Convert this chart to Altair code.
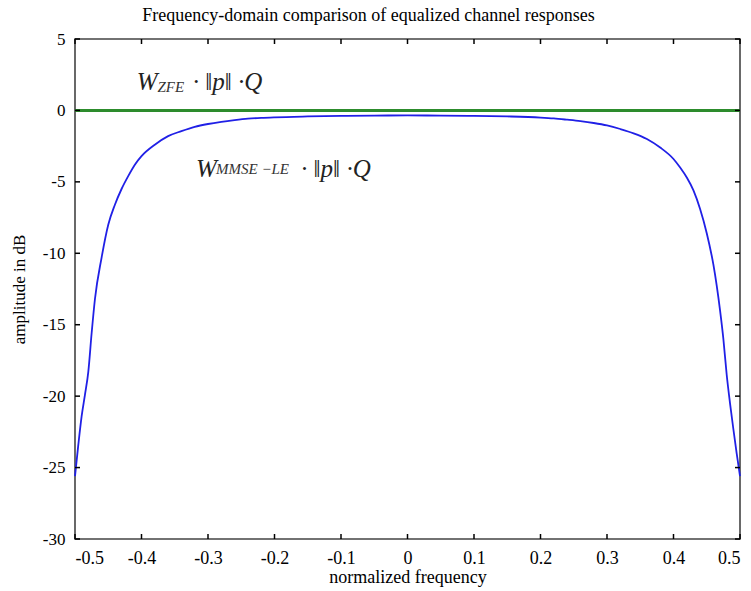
import altair as alt
import pandas as pd

# normalized frequency samples
freq = [-0.5, -0.495, -0.49, -0.485, -0.48, -0.475, -0.47, -0.46, -0.45, -0.44,
        -0.43, -0.42, -0.41, -0.40, -0.38, -0.36, -0.34, -0.32, -0.30, -0.28,
        -0.26, -0.24, -0.22, -0.20, -0.15, -0.10, -0.05, 0.0,
        0.05, 0.10, 0.15, 0.20, 0.22, 0.24, 0.26, 0.28, 0.30, 0.32,
        0.34, 0.36, 0.38, 0.40, 0.41, 0.42, 0.43, 0.44, 0.45, 0.46,
        0.47, 0.475, 0.48, 0.485, 0.49, 0.495, 0.5]
# MMSE-LE equalized response (dB)
mmse_db = [-25.6, -23.4, -21.4, -19.9, -18.3, -15.6, -13.2, -10.3, -8.0, -6.6,
           -5.5, -4.6, -3.8, -3.2, -2.4, -1.8, -1.45, -1.15, -0.95, -0.8,
           -0.68, -0.58, -0.52, -0.48, -0.42, -0.38, -0.36, -0.35,
           -0.36, -0.38, -0.42, -0.50, -0.56, -0.65, -0.75, -0.88, -1.05, -1.3,
           -1.6, -2.0, -2.6, -3.4, -4.0, -4.7, -5.6, -6.9, -8.6, -10.8,
           -14.0, -16.0, -18.5, -20.5, -22.3, -24.0, -25.6]
# ZFE equalized response (dB)
zfe_db = 0.0

x_ticks = [-0.5, -0.4, -0.3, -0.2, -0.1, 0, 0.1, 0.2, 0.3, 0.4, 0.5]
y_ticks = [5, 0, -5, -10, -15, -20, -25, -30]

# annotation pieces: text, x, y (data coords), size role
ann_text = ["W", "ZFE", "· ‖p‖ ·Q", "W", "MMSE −LE", "· ‖p‖ ·Q"]
ann_x = [-0.407, -0.376, -0.323, -0.318, -0.288, -0.160]
ann_y = [1.40, 1.26, 1.40, -4.69, -4.45, -4.69]
ann_role = ["main", "sub", "main", "main", "sub", "main"]

df = pd.DataFrame({"f": freq, "db": mmse_db})
ann = pd.DataFrame({"t": ann_text, "x": ann_x, "y": ann_y, "role": ann_role})
xt = pd.DataFrame({"v": x_ticks})
yt = pd.DataFrame({"v": y_ticks})

FONT = "Liberation Serif"
X0, X1 = -0.5, 0.5
Y0, Y1 = -30, 5
xs = alt.Scale(domain=[X0, X1], nice=False, zero=False)
ys = alt.Scale(domain=[Y0, Y1], nice=False, zero=False)
TX = 5 / 665 * (X1 - X0)   # inward tick length (5 px) in data units
TY = 5 / 500 * (Y1 - Y0)

x_axis = alt.Axis(values=x_ticks, title="normalized frequency", grid=False, domain=False, ticks=False,
                  labelPadding=10, labelExpr="datum.value + ''", labelFont=FONT,
                  labelFontSize=18, labelColor="black", titleFont=FONT, titleFontSize=18,
                  titleFontWeight="normal", titleColor="black", titlePadding=1)
y_axis = alt.Axis(values=y_ticks, title="amplitude in dB", grid=False, domain=False, ticks=False,
                  labelPadding=10, labelExpr="datum.value + ''", labelFont=FONT,
                  labelFontSize=17, labelColor="black", titleFont=FONT, titleFontSize=17,
                  titleFontWeight="normal", titleColor="black", titlePadding=14)

curve = alt.Chart(df).mark_line(color="#2020e6", strokeWidth=1.8, interpolate="monotone").encode(
    x=alt.X("f:Q", scale=xs, axis=x_axis),
    y=alt.Y("db:Q", scale=ys, axis=y_axis),
)

zfe = alt.Chart(df).mark_rule(color="#2e8b2e", strokeWidth=1.4).encode(
    y=alt.datum(zfe_db),
)

tick_mark = dict(color="black", strokeWidth=1.5)
xt_bottom = alt.Chart(xt).mark_rule(**tick_mark).encode(
    x=alt.X("v:Q"), y=alt.datum(Y0), y2=alt.datum(Y0 + TY))
xt_top = alt.Chart(xt).mark_rule(**tick_mark).encode(
    x=alt.X("v:Q"), y=alt.datum(Y1), y2=alt.datum(Y1 - TY))
yt_left = alt.Chart(yt).mark_rule(**tick_mark).encode(
    y=alt.Y("v:Q"), x=alt.datum(X0), x2=alt.datum(X0 + TX))
yt_right = alt.Chart(yt).mark_rule(**tick_mark).encode(
    y=alt.Y("v:Q"), x=alt.datum(X1), x2=alt.datum(X1 - TX))

main_txt = alt.Chart(ann).transform_filter(alt.datum.role == "main").mark_text(
    align="left", baseline="alphabetic", font=FONT, fontStyle="italic", fontSize=25, color="#222"
).encode(x=alt.X("x:Q"), y=alt.Y("y:Q"), text="t:N")

sub_txt = alt.Chart(ann).transform_filter(alt.datum.role == "sub").mark_text(
    align="left", baseline="alphabetic", font=FONT, fontStyle="italic", fontSize=15, color="#333"
).encode(x=alt.X("x:Q"), y=alt.Y("y:Q"), text="t:N")

chart = alt.layer(curve, zfe, xt_bottom, xt_top, yt_left, yt_right, main_txt, sub_txt).properties(
    width=665, height=500,
    autosize=alt.AutoSizeParams(type="none"),
    padding={"left": 75, "top": 39, "right": 11, "bottom": 52},
    title=alt.TitleParams("Frequency-domain comparison of equalized channel responses",
                          font=FONT, fontSize=18, fontWeight="normal", color="black",
                          anchor="middle", dx=-39, offset=5),
).configure_view(stroke="#444", strokeWidth=1.6)

chart.save("out.html", embed_options={"renderer": "svg", "actions": False})
